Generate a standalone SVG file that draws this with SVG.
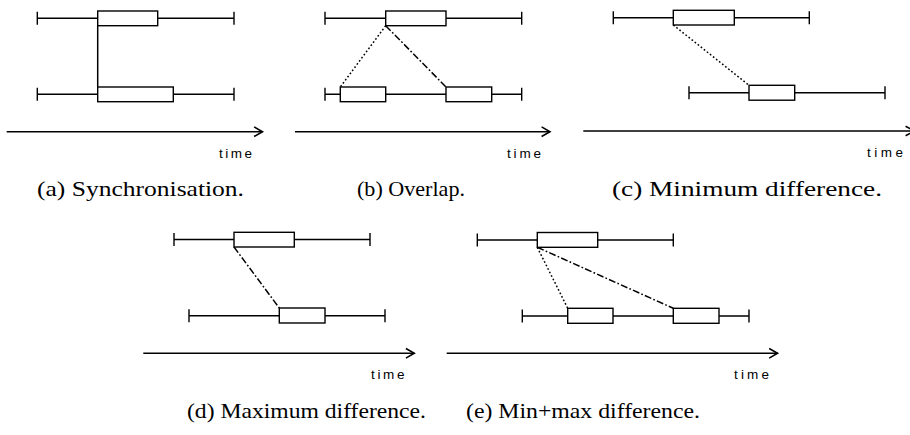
<svg xmlns="http://www.w3.org/2000/svg" width="910" height="435" viewBox="0 0 910 435">
<style>
.tl{stroke:#000;stroke-width:1.4;fill:none}
.box{fill:#fff;stroke:#000;stroke-width:1.4}
.c{stroke:#000;stroke-width:1.5;fill:none}
.dot{stroke-dasharray:1.7 2.2}
.dd{stroke-dasharray:7 2.2 1.7 2.2}
.ax{stroke:#000;stroke-width:1.4;fill:none;marker-end:url(#arr)}
.time{font-family:"Liberation Sans",Arial,sans-serif;font-size:13.5px;fill:#000}
.cap{font-family:"Liberation Serif","Times New Roman",serif;font-size:22px;fill:#000}
</style>
<defs>
<marker id="arr" markerUnits="userSpaceOnUse" markerWidth="12" markerHeight="12" refX="8" refY="5" orient="auto" viewBox="0 0 10 10">
<path d="M1,1 L8,5 L1,9" fill="none" stroke="#000" stroke-width="1.3"/>
</marker>
</defs>
<rect width="910" height="435" fill="#fff"/>

<!-- time axes -->
<g id="axes">
<path class="ax" d="M6.7,131.7 H262.5"/>
<path class="ax" d="M295,131.7 H550"/>
<path class="ax" d="M583.3,131 H914"/>
<path class="ax" d="M143.3,353.3 H414.3"/>
<path class="ax" d="M446.7,353.3 H777.6"/>
<text class="time" x="219" y="158" textLength="33" lengthAdjust="spacing">time</text>
<text class="time" x="507" y="158" textLength="34" lengthAdjust="spacing">time</text>
<text class="time" x="867" y="157" textLength="36" lengthAdjust="spacing">time</text>
<text class="time" x="371" y="378.5" textLength="33.5" lengthAdjust="spacing">time</text>
<text class="time" x="734" y="379" textLength="35" lengthAdjust="spacing">time</text>
</g>

<!-- connectors -->
<g id="connectors">
<path class="c" d="M97.7,25.7 V87"/>
<path class="c dot" d="M385.7,25.7 L340.3,87"/>
<path class="c dd" d="M385.7,25.7 L446,87"/>
<path class="c dot" d="M673.3,25 L749,85.3"/>
<path class="c dd" d="M234,247 L279.3,308"/>
<path class="c dot" d="M537.3,247.3 L567.7,308.3"/>
<path class="c dd" d="M537.3,247.3 L673.3,308.3"/>
</g>

<!-- panel a -->
<g id="a-top">
<path class="tl" d="M37.3,18.3 H234 M37.3,11.8 v13 M234,11.8 v13"/>
<rect class="box" x="97.7" y="11" width="60" height="14.7"/>
</g>
<g id="a-bottom">
<path class="tl" d="M37.3,94.3 H234 M37.3,87.8 v13 M234,87.8 v13"/>
<rect class="box" x="97.7" y="87" width="75.6" height="14.7"/>
</g>

<!-- panel b -->
<g id="b-top">
<path class="tl" d="M325,18.3 H521.7 M325,11.8 v13 M521.7,11.8 v13"/>
<rect class="box" x="385.7" y="11" width="60.3" height="14.7"/>
</g>
<g id="b-bottom">
<path class="tl" d="M325,94.3 H521.7 M325,87.8 v13 M521.7,87.8 v13"/>
<rect class="box" x="340.3" y="87" width="45.4" height="14.7"/>
<rect class="box" x="446" y="87" width="45.7" height="14.7"/>
</g>

<!-- panel c -->
<g id="c-top">
<path class="tl" d="M613.3,17.7 H809.3 M613.3,11.2 v13 M809.3,11.2 v13"/>
<rect class="box" x="673.3" y="10.3" width="61" height="14.7"/>
</g>
<g id="c-bottom">
<path class="tl" d="M689,92.7 H885 M689,86.2 v13 M885,86.2 v13"/>
<rect class="box" x="749" y="85.3" width="45.7" height="14.9"/>
</g>

<!-- panel d -->
<g id="d-top">
<path class="tl" d="M174,239.5 H370 M174,233 v13 M370,233 v13"/>
<rect class="box" x="234" y="232.3" width="60.3" height="14.7"/>
</g>
<g id="d-bottom">
<path class="tl" d="M189,315.7 H385 M189,309.2 v13 M385,309.2 v13"/>
<rect class="box" x="279.3" y="308" width="45.7" height="15"/>
</g>

<!-- panel e -->
<g id="e-top">
<path class="tl" d="M477.3,240 H673.3 M477.3,233.5 v13 M673.3,233.5 v13"/>
<rect class="box" x="537.3" y="232.5" width="60.4" height="14.8"/>
</g>
<g id="e-bottom">
<path class="tl" d="M522.3,316 H749 M522.3,309.5 v13 M749,309.5 v13"/>
<rect class="box" x="567.7" y="308.3" width="45.3" height="15"/>
<rect class="box" x="673.3" y="308.3" width="45.7" height="15"/>
</g>

<!-- captions -->
<g id="captions">
<text class="cap" x="37" y="196" textLength="207" lengthAdjust="spacingAndGlyphs">(a) Synchronisation.</text>
<text class="cap" x="357" y="196" textLength="108" lengthAdjust="spacingAndGlyphs">(b) Overlap.</text>
<text class="cap" x="612" y="196" textLength="270" lengthAdjust="spacingAndGlyphs">(c) Minimum difference.</text>
<text class="cap" x="187" y="418" textLength="239" lengthAdjust="spacingAndGlyphs">(d) Maximum difference.</text>
<text class="cap" x="466" y="418" textLength="234" lengthAdjust="spacingAndGlyphs">(e) Min+max difference.</text>
</g>
</svg>
